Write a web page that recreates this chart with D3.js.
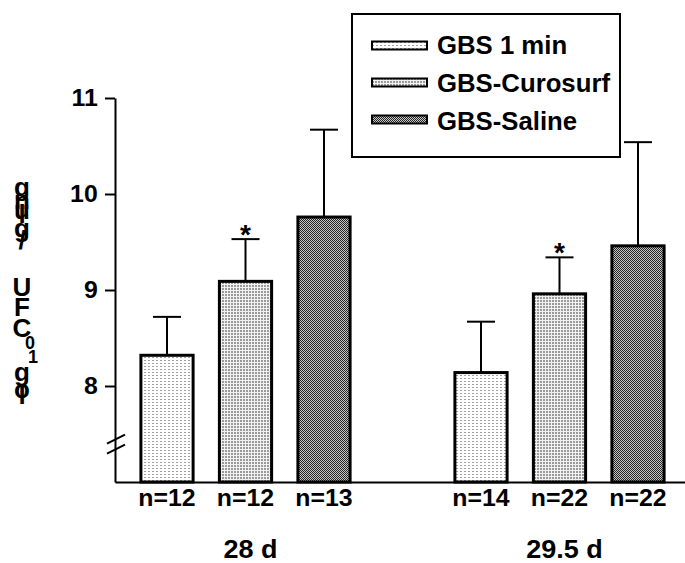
<!DOCTYPE html>
<html>
<head>
<meta charset="utf-8">
<script src="https://cdn.jsdelivr.net/npm/d3@7"></script>
<style>
  body { margin: 0; background: #fff; }
  svg { font-family: "Liberation Sans", Arial, sans-serif; font-weight: bold; }
</style>
</head>
<body>
<div id="container"></div>
<script>
/* DATA */
const groups = ["28 d", "29.5 d"]
const series = ["GBS 1 min", "GBS-Curosurf", "GBS-Saline"]
const mean28 = [8.32, 9.09, 9.76]
const err28 = [0.40, 0.44, 0.91]
const mean295 = [8.14, 8.96, 9.46]
const err295 = [0.53, 0.38, 1.08]
const n28 = [12, 12, 13]
const n295 = [14, 22, 22]
const sig28 = ["", "*", ""]
const sig295 = ["", "*", ""]
const yTicks = [8, 9, 10, 11]
const yLabel = "log10 CFU/g lung"

const width = 685, height = 563
const stretch = 1.08

// one row per bar
const rows = []
groups.forEach((g, gi) => {
  const m = gi === 0 ? mean28 : mean295
  const e = gi === 0 ? err28 : err295
  const n = gi === 0 ? n28 : n295
  const s = gi === 0 ? sig28 : sig295
  series.forEach((name, si) => {
    rows.push({ slot: g + "|" + si, group: g, si, mean: m[si], err: e[si], n: n[si], sig: s[si] })
  })
})
// empty slot between the two groups
const slots = rows.slice(0, 3).map(d => d.slot).concat(["gap"], rows.slice(3).map(d => d.slot))

/* SCALES */
const xScale = d3.scaleBand()
  .domain(slots)
  .range([115, 690])
  .paddingInner(0.335)
  .paddingOuter(0.33)

const yScale = d3.scaleLinear()
  .domain([7, 11])
  .range([482, 98])

const svg = d3.select("#container").append("svg")
  .attr("width", width)
  .attr("height", height)

/* PATTERNS */
const defs = svg.append("defs")
const p0 = defs.append("pattern").attr("id", "pat0").attr("patternUnits", "userSpaceOnUse")
  .attr("width", 4).attr("height", 3)
p0.append("rect").attr("width", 4).attr("height", 3).attr("fill", "#fff")
p0.append("rect").attr("width", 2).attr("height", 1).attr("fill", "#a0a0a0")

const p1 = defs.append("pattern").attr("id", "pat1").attr("patternUnits", "userSpaceOnUse")
  .attr("width", 3).attr("height", 3)
p1.append("rect").attr("width", 3).attr("height", 3).attr("fill", "#f2f2f2")
p1.append("rect").attr("width", 2).attr("height", 2).attr("fill", "#9a9a9a")

const p2 = defs.append("pattern").attr("id", "pat2").attr("patternUnits", "userSpaceOnUse")
  .attr("width", 2).attr("height", 2)
p2.append("rect").attr("width", 2).attr("height", 2).attr("fill", "#c8c8c8")
p2.append("rect").attr("width", 1).attr("height", 1).attr("fill", "#222")
p2.append("rect").attr("x", 1).attr("y", 1).attr("width", 1).attr("height", 1).attr("fill", "#222")

const fills = ["url(#pat0)", "url(#pat1)", "url(#pat2)"]

/* AXES */
const yAxis = d3.axisLeft(yScale)
  .tickValues(yTicks)
  .tickFormat(d3.format("d"))
  .tickSize(10).tickSizeOuter(0).tickPadding(6)
const gy = svg.append("g")
  .attr("transform", `translate(${xScale.range()[0]},0)`)
  .call(yAxis)
gy.select(".domain").attr("stroke-width", 2)
gy.selectAll(".tick line").attr("stroke-width", 2)
gy.selectAll(".tick text")
  .style("font-size", "23px")
  .attr("fill", "#000")
  .attr("transform", `scale(${stretch},1)`)

const byslot = new Map(rows.map(d => [d.slot, d]))
const xAxis = d3.axisBottom(xScale)
  .tickSize(0).tickSizeOuter(0).tickPadding(8)
  .tickFormat(s => byslot.has(s) ? "n=" + byslot.get(s).n : "")
const gx = svg.append("g")
  .attr("transform", `translate(0,${yScale(7)})`)
  .call(xAxis)
gx.select(".domain").attr("stroke-width", 2)
gx.selectAll(".tick text")
  .style("font-size", "23px")
  .attr("fill", "#000")
  .attr("transform", `scale(${stretch},1)`)

// axis break marks
const brk = yScale(7.4)
;[-5, 5].forEach(off => {
  svg.append("line")
    .attr("x1", xScale.range()[0] - 8).attr("y1", brk + off + 5)
    .attr("x2", xScale.range()[0] + 10).attr("y2", brk + off - 4)
    .attr("stroke", "#000").attr("stroke-width", 2)
})

/* BARS */
const bw = xScale.bandwidth()
svg.selectAll(".bar")
  .data(rows)
  .join("rect")
  .attr("class", "bar")
  .attr("x", d => xScale(d.slot))
  .attr("y", d => yScale(d.mean))
  .attr("width", bw)
  .attr("height", d => yScale(7) - yScale(d.mean))
  .attr("fill", d => fills[d.si])
  .attr("stroke", "#000")
  .attr("stroke-width", 3)

// error bars (upper only)
svg.selectAll(".err")
  .data(rows)
  .join("line")
  .attr("class", "err")
  .attr("x1", d => xScale(d.slot) + bw / 2)
  .attr("x2", d => xScale(d.slot) + bw / 2)
  .attr("y1", d => yScale(d.mean))
  .attr("y2", d => yScale(d.mean + d.err))
  .attr("stroke", "#000").attr("stroke-width", 2)

svg.selectAll(".cap")
  .data(rows)
  .join("line")
  .attr("class", "cap")
  .attr("x1", d => xScale(d.slot) + bw / 2 - 14)
  .attr("x2", d => xScale(d.slot) + bw / 2 + 14)
  .attr("y1", d => yScale(d.mean + d.err))
  .attr("y2", d => yScale(d.mean + d.err))
  .attr("stroke", "#000").attr("stroke-width", 2)

svg.selectAll(".sig")
  .data(rows.filter(d => d.sig))
  .join("text")
  .attr("class", "sig")
  .attr("x", d => xScale(d.slot) + bw / 2)
  .attr("y", d => yScale(d.mean + d.err) + 5)
  .attr("text-anchor", "middle")
  .style("font-size", "28px")
  .text(d => d.sig)

/* GROUP LABELS */
svg.selectAll(".grp")
  .data(groups)
  .join("text")
  .attr("class", "grp")
  .attr("text-anchor", "middle")
  .attr("transform", g => `translate(${xScale(g + "|1") + bw / 2 + 5},558) scale(${stretch},1)`)
  .style("font-size", "25px")
  .text(g => g)

/* Y LABEL: glyphs stacked upright, bottom to top */
const glyphs = [
  { c: "l", y: 404, x: 22, s: 26 }, { c: "o", y: 398, x: 22, s: 26 },
  { c: "g", y: 381, x: 22, s: 26 }, { c: "1", y: 363, x: 33, s: 18 },
  { c: "0", y: 349, x: 30, s: 18 }, { c: "C", y: 337, x: 22, s: 26 },
  { c: "F", y: 316, x: 22, s: 26 }, { c: "U", y: 296, x: 22, s: 26 },
  { c: "/", y: 249, x: 22, s: 26 }, { c: "g", y: 237, x: 22, s: 26 },
  { c: "l", y: 223, x: 22, s: 26 }, { c: "u", y: 219, x: 22, s: 26 },
  { c: "n", y: 209, x: 22, s: 26 }, { c: "g", y: 196, x: 22, s: 26 }
]
const ylab = svg.append("g").attr("class", "ylabel").attr("aria-label", yLabel)
ylab.selectAll("text")
  .data(glyphs)
  .join("text")
  .attr("x", d => d.x)
  .attr("y", d => d.y)
  .attr("text-anchor", "middle")
  .style("font-size", d => d.s + "px")
  .text(d => d.c)

/* LEGEND */
const legend = svg.append("g")
legend.append("rect")
  .attr("x", 352).attr("y", 14).attr("width", 268).attr("height", 143)
  .attr("fill", "#fff").attr("stroke", "#000").attr("stroke-width", 2)

const items = legend.selectAll(".item")
  .data(series)
  .join("g")
  .attr("class", "item")
items.append("rect")
  .attr("x", 372)
  .attr("y", (d, i) => 41.5 + i * 37)
  .attr("width", 55).attr("height", 8)
  .attr("fill", (d, i) => fills[i])
  .attr("stroke", "#000").attr("stroke-width", 2)
items.append("text")
  .attr("transform", (d, i) => `translate(437,${53.5 + i * 38}) scale(1.03,1)`)
  .style("font-size", "25px")
  .text(d => d)
</script>
</body>
</html>
